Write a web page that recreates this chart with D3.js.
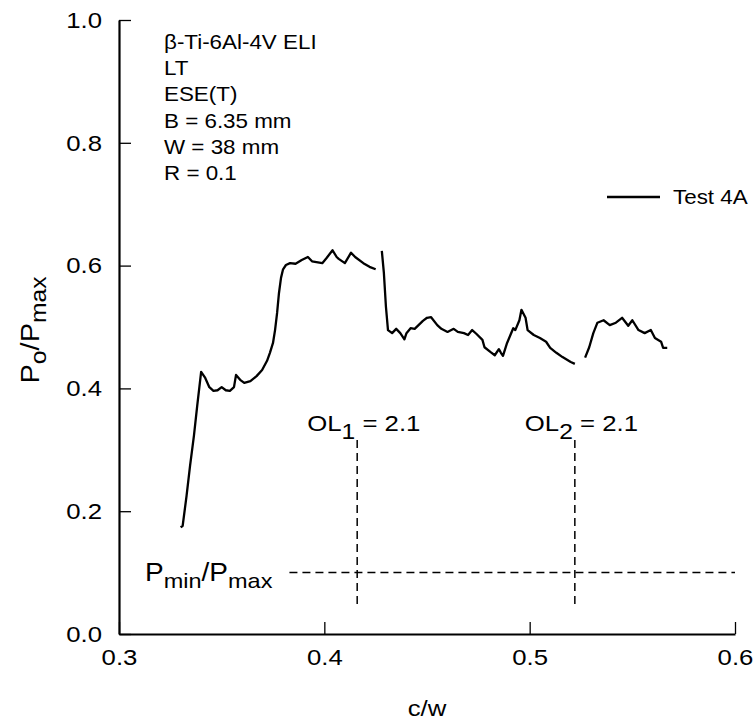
<!DOCTYPE html>
<html>
<head>
<meta charset="utf-8">
<script src="https://cdn.jsdelivr.net/npm/d3@7"></script>
<style>
  html, body { margin: 0; padding: 0; background: #fff; }
  svg { display: block; font-family: "Liberation Sans", Arial, Helvetica, sans-serif; }
</style>
</head>
<body>
<svg id="chart" width="755" height="727"></svg>
<script>
// ---- data ----
const seg1CW = [0.330,0.331,0.3329,0.3346,0.3365,0.3381,0.340,0.342,0.344,0.346,0.348,0.350,0.352,0.354,0.356,0.357,0.359,0.361,0.364,0.367,0.3697,0.3721,0.3735,0.3750,0.3760,0.3770,0.3779,0.3789,0.3799,0.3813,0.3833,0.386,0.389,0.392,0.394,0.399,0.401,0.404,0.406,0.407,0.410,0.413,0.415,0.419,0.422,0.425];
const seg1P  = [0.174,0.176,0.225,0.274,0.323,0.372,0.427,0.417,0.402,0.396,0.397,0.402,0.397,0.396,0.402,0.422,0.414,0.409,0.412,0.420,0.430,0.445,0.458,0.474,0.495,0.523,0.555,0.580,0.594,0.601,0.604,0.603,0.609,0.614,0.607,0.604,0.612,0.625,0.614,0.611,0.604,0.621,0.614,0.604,0.598,0.594];
const seg2CW = [0.428,0.429,0.430,0.431,0.433,0.435,0.437,0.439,0.440,0.442,0.444,0.448,0.450,0.452,0.455,0.457,0.460,0.463,0.465,0.468,0.470,0.472,0.474,0.477,0.478,0.481,0.483,0.485,0.486,0.487,0.489,0.492,0.493,0.495,0.496,0.498,0.499,0.502,0.505,0.508,0.510,0.513,0.516,0.520,0.522];
const seg2P  = [0.624,0.588,0.533,0.495,0.490,0.497,0.490,0.480,0.490,0.498,0.497,0.510,0.515,0.516,0.503,0.497,0.492,0.497,0.492,0.490,0.487,0.495,0.489,0.479,0.467,0.459,0.454,0.464,0.458,0.453,0.474,0.498,0.495,0.511,0.528,0.515,0.495,0.487,0.482,0.476,0.466,0.458,0.451,0.443,0.440];
const seg3CW = [0.527,0.529,0.531,0.533,0.536,0.539,0.542,0.545,0.548,0.550,0.553,0.556,0.559,0.561,0.564,0.565,0.567];
const seg3P  = [0.450,0.467,0.490,0.507,0.511,0.503,0.507,0.515,0.502,0.511,0.495,0.490,0.495,0.482,0.476,0.466,0.466];

const xTicks = [0.3, 0.4, 0.5, 0.6];
const yTicks = [0.0, 0.2, 0.4, 0.6, 0.8, 1.0];
const overloadCW = [0.416, 0.522];
const overloadLabels = [["OL", "1", " = 2.1"], ["OL", "2", " = 2.1"]];
const overloadPRange = [0.047, 0.316];
const pminRatio = 0.1;
const pminLineCW = [0.383, 0.6];
const infoLines = ["\u03b2-Ti-6Al-4V ELI", "LT", "ESE(T)", "B = 6.35 mm", "W = 38 mm", "R = 0.1"];
const legendLabel = "Test 4A";

const SX = 1.12; // reference glyphs are a little wider than Liberation Sans

// ---- scales ----
const svg = d3.select("#chart");
const x = d3.scaleLinear().domain([0.3, 0.6]).range([119, 735]);
const y = d3.scaleLinear().domain([0, 1]).range([634, 20]);

// ---- axes ----
const xAxis = svg.append("g").attr("transform", `translate(0,${y(0)})`)
  .call(d3.axisBottom(x).tickValues(xTicks).tickFormat(d3.format(".1f"))
        .tickSize(-12).tickSizeOuter(0).tickPadding(14));
const yAxis = svg.append("g").attr("transform", `translate(${x(0.3)},0)`)
  .call(d3.axisLeft(y).tickValues(yTicks).tickFormat(d3.format(".1f"))
        .tickSize(-12).tickSizeOuter(0).tickPadding(17));
[xAxis, yAxis].forEach(g => {
  g.select(".domain").attr("stroke", "#000").attr("stroke-width", 2.2);
  g.selectAll(".tick line").attr("stroke", "#000").attr("stroke-width", 1.3);
  g.selectAll(".tick text").attr("fill", "#000").attr("font-size", 23)
    .attr("font-family", "Liberation Sans, Arial, sans-serif");
});
xAxis.selectAll(".tick text").attr("dy", "0.75em")
  .attr("transform", `scale(${SX},1)`)
  .attr("x", function() { return 0; });
yAxis.selectAll(".tick text").attr("transform", function() {
  const xx = +d3.select(this).attr("x");
  d3.select(this).attr("x", 0);
  return `translate(${xx},0) scale(${SX},1)`;
});

// axis titles
svg.append("text").attr("transform", `translate(427,716) scale(${SX},1)`)
  .attr("text-anchor", "middle").attr("font-size", 23).text("c/w");

const yt = svg.append("text").attr("transform", `translate(39,330) rotate(-90) scale(${SX},1)`)
  .attr("text-anchor", "middle").attr("font-size", 26);
yt.append("tspan").text("P");
yt.append("tspan").attr("font-size", 22).attr("dy", 7).text("o");
yt.append("tspan").attr("dy", -7).text("/P");
yt.append("tspan").attr("font-size", 22).attr("dy", 7).text("max");

// ---- data line ----
const line = d3.line().x(d => x(d[0])).y(d => y(d[1]));
const segments = [
  d3.zip(seg1CW, seg1P),
  d3.zip(seg2CW, seg2P),
  d3.zip(seg3CW, seg3P)
];
svg.append("g").selectAll("path").data(segments).join("path")
  .attr("d", line).attr("fill", "none").attr("stroke", "#000")
  .attr("stroke-width", 2.3).attr("stroke-linejoin", "round");

// ---- dashed reference lines ----
svg.append("line")
  .attr("x1", x(pminLineCW[0])).attr("x2", x(pminLineCW[1]))
  .attr("y1", y(pminRatio)).attr("y2", y(pminRatio))
  .attr("stroke", "#000").attr("stroke-width", 1.5).attr("stroke-dasharray", "8,5");

svg.append("g").selectAll("line").data(overloadCW).join("line")
  .attr("x1", d => x(d)).attr("x2", d => x(d))
  .attr("y1", y(overloadPRange[1])).attr("y2", y(overloadPRange[0]))
  .attr("stroke", "#000").attr("stroke-width", 1.5).attr("stroke-dasharray", "8,5");

overloadCW.forEach((cw, i) => {
  const t = svg.append("text")
    .attr("transform", `translate(${x(cw) - 50},431) scale(${SX},1)`).attr("font-size", 23);
  t.append("tspan").text(overloadLabels[i][0]);
  t.append("tspan").attr("font-size", 22).attr("dy", 8).text(overloadLabels[i][1]);
  t.append("tspan").attr("dy", -8).text(overloadLabels[i][2]);
});

// Pmin/Pmax label
const pm = svg.append("text").attr("transform", `translate(145,581) scale(${SX},1)`).attr("font-size", 25);
pm.append("tspan").text("P");
pm.append("tspan").attr("font-size", 21).attr("dy", 7).text("min");
pm.append("tspan").attr("dy", -7).text("/P");
pm.append("tspan").attr("font-size", 21).attr("dy", 7).text("max");

// ---- info text ----
svg.append("g").selectAll("text").data(infoLines).join("text")
  .attr("transform", (d, i) => `translate(164,${49 + i * 26.2}) scale(${SX},1)`)
  .attr("font-size", 20).attr("fill", "#000").text(d => d);

// ---- legend ----
svg.append("line").attr("x1", 607).attr("x2", 660).attr("y1", 197).attr("y2", 197)
  .attr("stroke", "#000").attr("stroke-width", 2.3);
svg.append("text").attr("transform", `translate(673,204) scale(${SX},1)`)
  .attr("font-size", 20).text(legendLabel);
</script>
</body>
</html>
